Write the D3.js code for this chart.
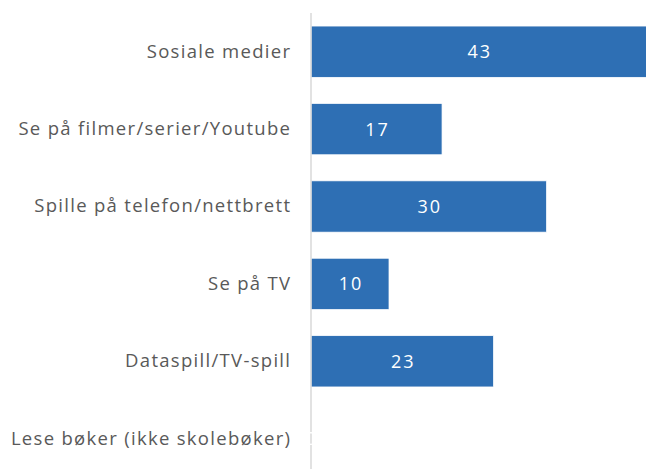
<!DOCTYPE html>
<html>
<head>
<meta charset="utf-8">
<script src="https://cdn.jsdelivr.net/npm/d3@7"></script>
<style>
  html, body { margin: 0; padding: 0; background: #fff; }
  svg { display: block; }
</style>
</head>
<body>
<div id="chart"></div>
<script>
const categories = [
  "Sosiale medier",
  "Se på filmer/serier/Youtube",
  "Spille på telefon/nettbrett",
  "Se på TV",
  "Dataspill/TV-spill",
  "Lese bøker (ikke skolebøker)"
];
const values = [43.0, 16.8, 30.2, 10.0, 23.4, 0];
const valueLabels = ["43", "17", "30", "10", "23", "0"];

const W = 646, H = 469;
const axisX = 311;

const svg = d3.select("#chart").append("svg")
  .attr("width", W).attr("height", H);

const x = d3.scaleLinear().domain([0, 50]).range([axisX, axisX + 390]);
const y = d3.scaleBand().domain(categories).range([13, 477.4])
  .paddingInner(0.337).paddingOuter(0.1685);

const data = categories.map((c, i) => ({ c, v: values[i], l: valueLabels[i] }));

svg.selectAll("rect.bar").data(data).enter().append("rect")
  .attr("class", "bar")
  .attr("x", x(0))
  .attr("y", d => y(d.c))
  .attr("width", d => x(d.v) - x(0))
  .attr("height", y.bandwidth())
  .attr("fill", "#2e6fb4")
  .attr("stroke", "#ffffff")
  .attr("stroke-width", 0.75);

const yAxis = d3.axisLeft(y).tickSize(0).tickPadding(19.7);
const g = svg.append("g").attr("transform", `translate(${axisX},0)`).call(yAxis);
g.select(".domain").attr("stroke", "#d9d9d9").attr("stroke-width", 1.5)
  .attr("d", `M0,13V${H + 10}`);
g.selectAll("text")
  .attr("fill", "#595959")
  .style("font-family", "'Open Sans', 'Liberation Sans', sans-serif")
  .style("font-size", "18.5px")
  .style("letter-spacing", "1.3px");

svg.selectAll("text.val").data(data).enter().append("text")
  .attr("class", "val")
  .attr("x", d => (x(0) + x(d.v)) / 2 + 1)
  .attr("y", d => y(d.c) + y.bandwidth() / 2)
  .attr("dy", "0.36em")
  .attr("text-anchor", "middle")
  .attr("fill", "#ffffff")
  .style("font-family", "'Open Sans', 'Liberation Sans', sans-serif")
  .style("font-size", "18px")
  .style("letter-spacing", "2px")
  .text(d => d.l);
</script>
</body>
</html>
